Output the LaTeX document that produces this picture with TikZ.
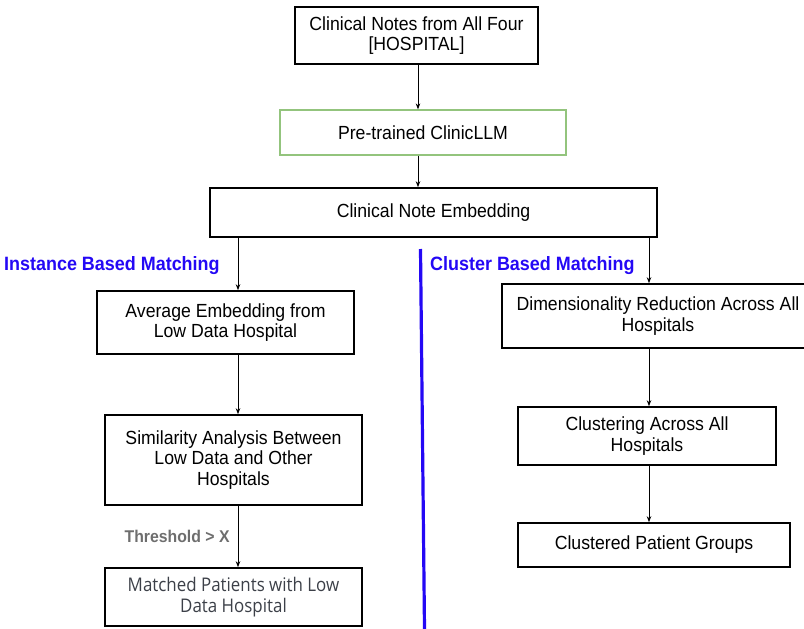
\documentclass[tikz,border=0pt]{standalone}
\usepackage{fontspec}
\setmainfont{Liberation Sans}[FakeStretch=0.93]
\newfontfamily\matchfont{Open Sans}[FakeStretch=0.9]
\usetikzlibrary{arrows.meta,positioning}
\definecolor{splitblue}{RGB}{36,8,245}
\definecolor{llmgreen}{RGB}{147,196,125}
\definecolor{notegray}{RGB}{110,110,110}
\definecolor{slategray}{RGB}{60,64,72}
\tikzset
{
    process/.style={rectangle, draw=black, line width=1.6pt, align=center, inner sep=0pt, font=\fontsize{19}{20.8}\selectfont},
    llmbox/.style={process, draw=llmgreen, line width=1.3pt},
    heading/.style={font=\fontsize{19.3}{21}\selectfont\bfseries, text=splitblue, inner sep=0pt},
    arrow/.style={->, >={Stealth[length=6pt,width=4.5pt]}, line width=0.8pt},
    divider/.style={draw=splitblue, line width=3.2pt}
}

\begin{document}
\begin{tikzpicture}[x=1pt, y=-1pt]
   \useasboundingbox (0,0) rectangle (804,629);

   \node (notes) [process, minimum width=243pt, minimum height=57pt] at (416.5, 35.5) {Clinical Notes from All Four \\ {[HOSPITAL]}};
   \node (llm)   [llmbox,  minimum width=286pt, minimum height=45pt] at (423, 132.5)  {Pre-trained ClinicLLM};
   \node (emb)   [process, minimum width=447pt, minimum height=49pt] at (433.5, 212.5) {Clinical Note Embedding};

   \node (inst)  [heading, anchor=west] at (4, 266)   {Instance Based Matching};
   \node (clus)  [heading, anchor=west] at (430, 266) {Cluster Based Matching};

   \node (avg)   [process, minimum width=257pt, minimum height=63pt] at (225.5, 322.5) {Average Embedding from \\ Low Data Hospital};
   \node (sim)   [process, minimum width=257pt, minimum height=90pt] at (233.5, 460)   {Similarity Analysis Between \\ Low Data and Other \\ Hospitals};
   \node (match) [process, minimum width=257pt, minimum height=58pt, font=\matchfont\fontsize{18.8}{21}\selectfont, text=slategray] at (233.5, 597) {Matched Patients with Low \\ Data Hospital};

   \node (dim)   [process, minimum width=312pt, minimum height=64pt] at (658, 316) {Dimensionality Reduction Across All \\ Hospitals};
   \node (clu)   [process, minimum width=258pt, minimum height=58pt] at (647, 436) {Clustering Across All \\ Hospitals};
   \node (grp)   [process, minimum width=272pt, minimum height=44pt] at (654, 545) {Clustered Patient Groups};

   \coordinate (lx) at (238, 0);
   \coordinate (rx) at (649, 0);
   \coordinate (mx) at (418, 0);
   \coordinate (dtop) at (420.5, 249);
   \coordinate (dbot) at (424.5, 629);

   \path[divider] (dtop) -- (dbot);

   \path
      (notes.south -| mx)    edge[arrow] (llm.north -| mx)
      (llm.south -| mx)      edge[arrow] (emb.north -| mx)
      (emb.south -| lx)      edge[arrow] (avg.north -| lx)
      (avg.south -| lx)      edge[arrow] (sim.north -| lx)
      (sim.south -| lx)      edge[arrow] node[midway, left=8pt, font=\fontsize{17}{18}\selectfont\bfseries, text=notegray, inner sep=0pt] {Threshold > X} (match.north -| lx)
      (emb.south -| rx)      edge[arrow] (dim.north -| rx)
      (dim.south -| rx)      edge[arrow] (clu.north -| rx)
      (clu.south -| rx)      edge[arrow] (grp.north -| rx);
\end{tikzpicture}
\end{document}
